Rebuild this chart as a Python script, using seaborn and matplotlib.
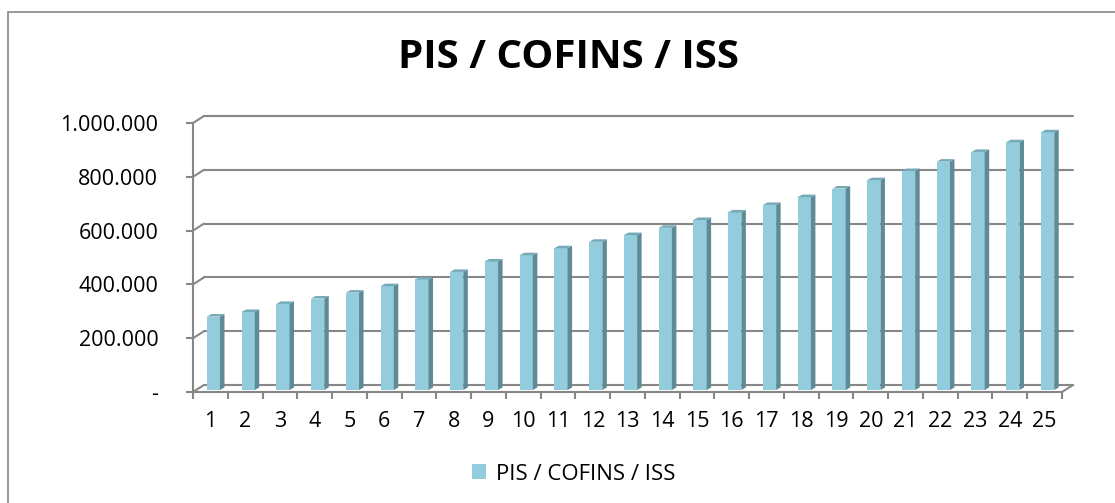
import numpy as np
import pandas as pd
import seaborn as sns
import matplotlib.pyplot as plt
from matplotlib.patches import Polygon, Rectangle
from matplotlib.lines import Line2D
from matplotlib.transforms import offset_copy, Affine2D
from matplotlib.ticker import FuncFormatter, FixedLocator

# dados
periodos = [str(i) for i in range(1, 26)]
valores = [273000, 290000, 320000, 340000, 362000, 386000, 411000, 439000,
           478000, 501000, 527000, 551000, 576000, 603000, 632000, 660000,
           688000, 717000, 749000, 780000, 814000, 849000, 885000, 921000, 958000]
serie = 'PIS / COFINS / ISS'
y_ticks = [0, 200000, 400000, 600000, 800000, 1000000]

df = pd.DataFrame({'periodo': periodos, 'valor': valores})

sns.set_style('white')
plt.rcParams['font.family'] = ['Open Sans', 'DejaVu Sans']
plt.rcParams['text.color'] = 'black'

DPI = 100
W, H = 1115, 503
fig = plt.figure(figsize=(W / DPI, H / DPI), dpi=DPI)
ax = fig.add_axes([193 / W, 1 - 392 / H, 869 / W, 269 / H])

frente = '#93CDDD'
lado = '#5E8B96'
topo = '#74A9B6'
cinza = '#878787'

sns.barplot(data=df, x='periodo', y='valor', color=frente, width=0.38,
            saturation=1, ax=ax, label=serie, zorder=3)
ax.set_xlim(-0.5, len(periodos) - 0.5)
ax.set_ylim(0, 1000000)

# profundidade (px) da parede do fundo e das colunas
dx, dy = 11, 7
bx, by = 3, 2
sx, sy = 4.5, 2.5

fig.canvas.draw()
tr_bar = offset_copy(ax.transData, fig=fig, x=bx, y=by, units='dots')
for p in ax.patches:
    p.set_transform(tr_bar)
    p.set_linewidth(0)
    x0, y0 = p.get_x(), p.get_y()
    x1, y1 = x0 + p.get_width(), y0 + p.get_height()
    (X0, Y0), (X1, Y1) = tr_bar.transform([(x0, y0), (x1, y1)])
    ax.add_patch(Polygon([(X1, Y0), (X1 + sx, Y0 + sy), (X1 + sx, Y1 + sy), (X1, Y1)],
                         closed=True, facecolor=lado, edgecolor='none',
                         transform=None, zorder=3))
    ax.add_patch(Polygon([(X0, Y1), (X1, Y1), (X1 + sx, Y1 + sy), (X0 + sx, Y1 + sy)],
                         closed=True, facecolor=topo, edgecolor='none',
                         transform=None, zorder=3))

# parede do fundo: linhas de grade deslocadas + diagonais
tr_back = ax.get_yaxis_transform() + Affine2D().translate(dx, dy)
for v in y_ticks:
    ax.add_line(Line2D([0, 1], [v, v], transform=tr_back, color=cinza, lw=1.5,
                       zorder=1, clip_on=False))
    X, Y = ax.transData.transform((-0.5, v))
    ax.add_line(Line2D([X, X + dx], [Y, Y + dy], transform=None, color=cinza,
                       lw=1.5, zorder=1, clip_on=False))
# canto direito do piso
X, Y = ax.transData.transform((len(periodos) - 0.5, 0))
ax.add_line(Line2D([X, X + dx], [Y, Y + dy], transform=None, color=cinza,
                   lw=1.5, zorder=1, clip_on=False))

for s in ['top', 'right']:
    ax.spines[s].set_visible(False)
for s in ['left', 'bottom']:
    ax.spines[s].set_color(cinza)
    ax.spines[s].set_linewidth(1.5)

ax.set_yticks(y_ticks)
ax.yaxis.set_major_formatter(FuncFormatter(
    lambda v, pos: '-' if v == 0 else f'{v:,.0f}'.replace(',', '.')))
ax.tick_params(axis='y', left=True, length=5, width=1.5, color=cinza,
               labelsize=15.5, pad=20, labelcolor='black')

ax.xaxis.set_major_locator(FixedLocator(np.arange(-0.5, len(periodos), 1)))
ax.xaxis.set_minor_locator(FixedLocator(np.arange(len(periodos))))
ax.xaxis.set_major_formatter(FuncFormatter(lambda v, pos: ''))
ax.xaxis.set_minor_formatter(FuncFormatter(lambda v, pos: periodos[int(round(v))]))
ax.tick_params(axis='x', which='major', bottom=True, length=5, width=1.5, color=cinza)
ax.tick_params(axis='x', which='minor', bottom=True, length=0, labelsize=15.5,
               pad=14, labelcolor='black')
ax.set_xlabel('')
ax.set_ylabel('')

fig.text(568 / W, 1 - 57 / H, serie, ha='center', va='center',
         fontsize=29, fontweight='bold', color='black')

ax.legend(loc='center', bbox_to_anchor=(574 / W, 1 - 474 / H),
          bbox_transform=fig.transFigure, frameon=False, fontsize=16,
          handlelength=0.65, handleheight=0.65, handletextpad=0.45,
          labelcolor='black')

# borda da area do grafico
fig.patches.append(Rectangle((8 / W, -0.1), 1.2, 1.1 - 12 / H,
                             transform=fig.transFigure, fill=False,
                             edgecolor=cinza, lw=1.2))

fig.savefig('out.png', dpi=DPI)
